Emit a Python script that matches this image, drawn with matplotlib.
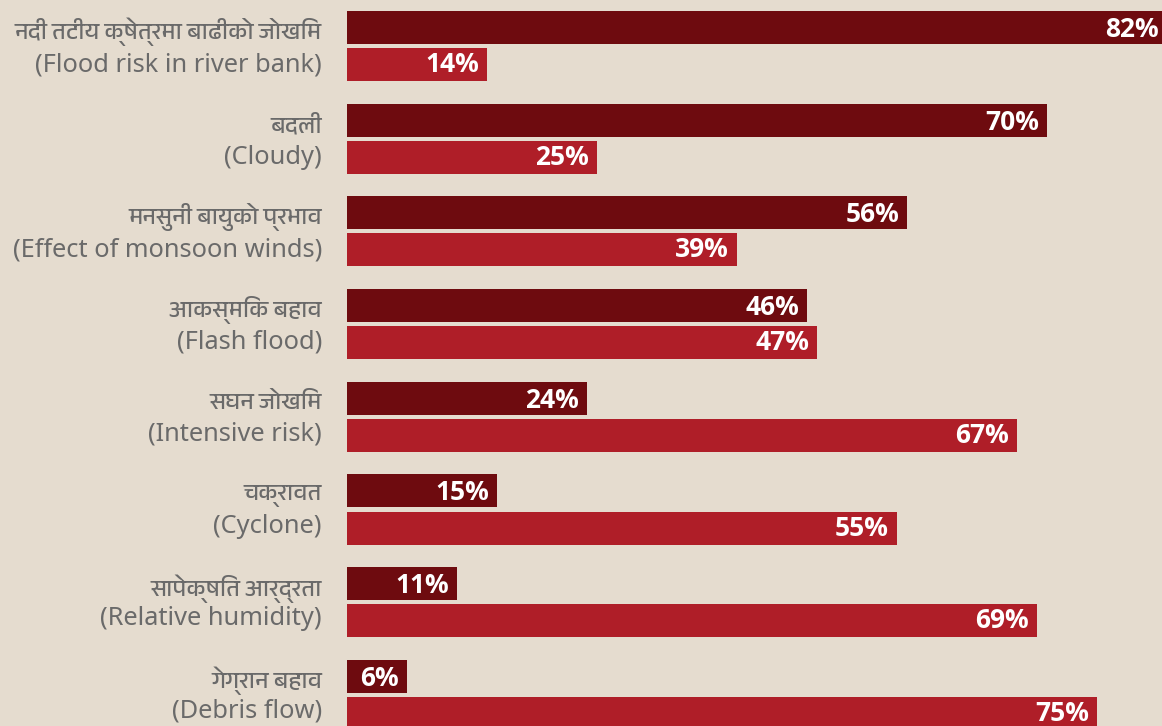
import matplotlib
matplotlib.use("Agg")
import matplotlib.pyplot as plt
from matplotlib import font_manager

# categories, two lines each (Nepali / English)
labels_np = ["नदी तटीय क्षेत्रमा बाढीको जोखिम", "बदली", "मनसुनी बायुको प्रभाव", "आकस्मिक बहाव",
             "सघन जोखिम", "चक्रावत", "सापेक्षित आर्द्रता", "गेग्रान बहाव"]
labels_en = ["(Flood risk in river bank)", "(Cloudy)", "(Effect of monsoon winds)", "(Flash flood)",
             "(Intensive risk)", "(Cyclone)", "(Relative humidity)", "(Debris flow)"]
series_a = [82, 70, 56, 46, 24, 15, 11, 6]
series_b = [14, 25, 39, 47, 67, 55, 69, 75]

bg = "#e5dccf"
dark = "#6e0b0f"
red = "#af1e28"
grey = "#6a6a6a"

fonts = font_manager.fontManager.ttflist
# pick a font that can draw Devanagari if one is installed
deva = sorted({f.name for f in fonts if "Devanagari" in f.name})
fams = deva + ["Noto Sans", "DejaVu Sans"]
latin = ["Noto Sans", "DejaVu Sans"]
# a family that really ships a bold face, for the value labels
bold_fam = "DejaVu Sans"
for name in ["Noto Sans", "Open Sans", "Lato", "Roboto", "Inter"]:
    ws = [f.weight for f in fonts if f.name == name]
    if any(isinstance(w, int) and w >= 700 or w == "bold" for w in ws):
        bold_fam = name
        break

fig = plt.figure(figsize=(11.62, 7.26), dpi=100, facecolor=bg)
ax = fig.add_axes([347 / 1162, 0, 1 - 347 / 1162, 1])
ax.set_facecolor(bg)

h = 0.356
off = 0.2
for i in range(len(series_a)):
    ax.barh(i - off, series_a[i], height=h, color=dark)
    ax.barh(i + off, series_b[i], height=h, color=red)
    ax.text(series_a[i] - 0.8, i - off + 0.02, f"{series_a[i]}%", ha="right", va="center",
            color="white", fontsize=19, fontweight="bold", family=[bold_fam, "DejaVu Sans"])
    ax.text(series_b[i] - 0.8, i + off, f"{series_b[i]}%", ha="right", va="center",
            color="white", fontsize=19, fontweight="bold", family=[bold_fam, "DejaVu Sans"])
    ax.text(-2.5, i - off + 0.05, labels_np[i], ha="right", va="center", color=grey,
            fontsize=17, family=fams, clip_on=False)
    ax.text(-2.5, i + off + 0.01 - 0.006 * i, labels_en[i], ha="right", va="center", color=grey,
            fontsize=18.3, family=latin, clip_on=False)

ax.set_xlim(0, 81.5)
ax.set_ylim(7.335, -0.496)
ax.axis("off")

fig.savefig("out.png", dpi=100, facecolor=bg)
